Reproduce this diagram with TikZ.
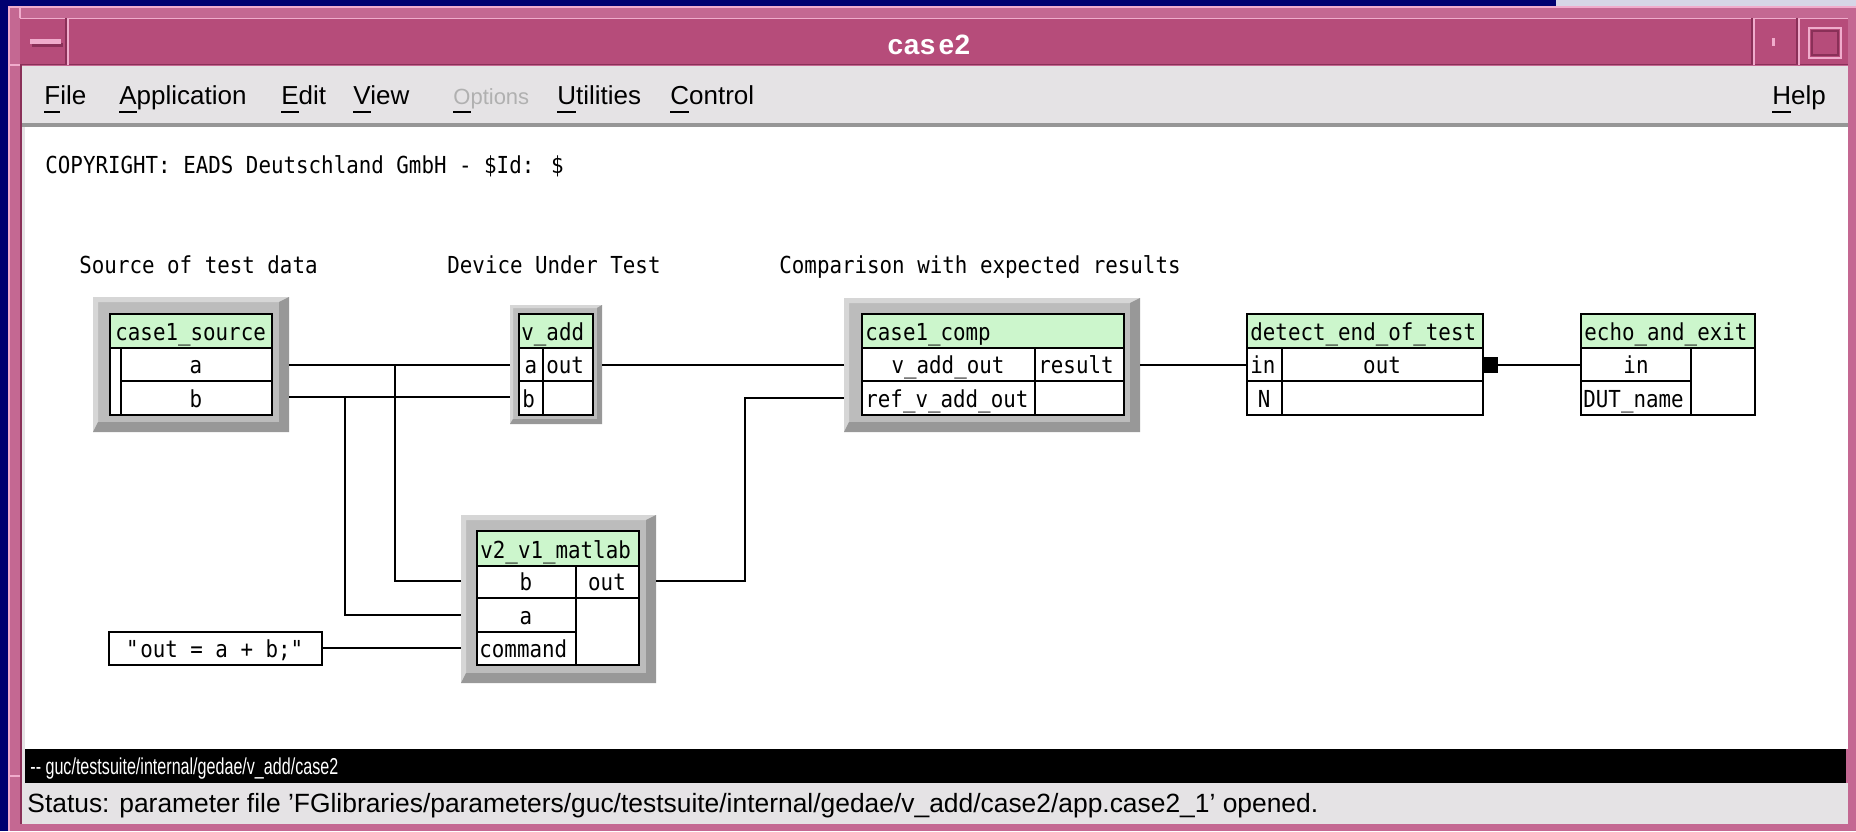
\documentclass[tikz,border=0pt]{standalone}
\usepackage{fontspec}
\setmainfont{Liberation Sans}
\newfontfamily\gmono[FakeStretch=0.89]{DejaVu Sans Mono}
\newfontfamily\guisans{Liberation Sans}
\newfontfamily\pathfont[FakeStretch=0.7]{Liberation Sans}
\newfontfamily\statfont{Liberation Sans}

\definecolor{desk}{RGB}{0,0,112}
\definecolor{desklight}{RGB}{214,214,230}
\definecolor{wframe}{RGB}{196,104,146}
\definecolor{wlight}{RGB}{240,172,204}
\definecolor{wdark}{RGB}{138,48,88}
\definecolor{titlebar}{RGB}{182,76,122}
\definecolor{menubg}{RGB}{229,227,229}
\definecolor{menushade}{RGB}{150,150,150}
\definecolor{hdrgreen}{RGB}{204,246,204}
\definecolor{framemid}{RGB}{188,188,188}
\definecolor{framelight}{RGB}{214,214,214}
\definecolor{framedark}{RGB}{152,152,152}
\definecolor{greyed}{RGB}{176,176,176}

% keyboard mnemonic: underline the first letter of a menu entry
\newcommand\mnemo[1]{\setbox0\hbox{#1}\rlap{\textcolor{black}{\rule[-4.5pt]{\wd0}{1pt}}}#1}

% grey bevelled block frame: x1 y1 x2 y2 lightwidth darkwidth
\newcommand\bevelbox[6]{%
  \fill[framemid] (#1,#2) rectangle (#3,#4);
  \fill[framelight] (#1,#2) -- (#3,#2) -- (#3-#6,#2+#5) -- (#1+#5,#2+#5)
       -- (#1+#5,#4-#6) -- (#1,#4) -- cycle;
  \fill[framedark] (#3,#4) -- (#1,#4) -- (#1+#5,#4-#6) -- (#3-#6,#4-#6)
       -- (#3-#6,#2+#5) -- (#3,#2) -- cycle;
}

\begin{document}
\begin{tikzpicture}[x=0.5pt,y=-0.5pt,
  mono/.style={font=\gmono\fontsize{11.7}{13}\selectfont, inner sep=0pt, anchor=base west},
  monoc/.style={mono, anchor=base},
  menu/.style={font=\guisans\fontsize{13}{15}\selectfont, inner sep=0pt, anchor=base west},
  cellbox/.style={line width=1pt},
  wire/.style={line width=1.1pt},
  ]
\useasboundingbox (0,0) rectangle (1856,831);

% ---------- desktop and window decoration ----------
\fill[desk] (0,0) rectangle (1856,831);
\fill[desklight] (1556,0) rectangle (1856,6);
\fill[wframe] (8,6) rectangle (1856,831);
\draw[wlight, line width=1pt] (9,831) -- (9,7) -- (1856,7);
\draw[wlight, line width=0.6pt] (20,6) -- (20,18) (8,65) -- (20,65) (8,776) -- (22,776);
\draw[wdark, line width=0.6pt] (21,18) -- (21,824);

% title bar
\fill[titlebar] (20,18) rectangle (1848,65);
\draw[wlight, line width=0.8pt] (20,18.5) -- (1848,18.5);
\draw[wdark, line width=0.8pt] (20,64.5) -- (1848,64.5);
\draw[wlight, line width=0.8pt] (68,18) -- (68,65) (1754,18) -- (1754,65) (1799,18) -- (1799,65);
\draw[wdark, line width=0.8pt] (66,18) -- (66,65) (1752,18) -- (1752,65) (1797,18) -- (1797,65);
\fill[wdark] (32,43) rectangle (63,47);
\fill[wlight] (30,39) rectangle (61,44);
\fill[wlight] (1772,38) rectangle (1775,46);
\draw[wlight, line width=1pt] (1809,28) rectangle (1841,58);
\draw[wdark, line width=0.8pt] (1812,31) rectangle (1838,55);
\node[font=\guisans\bfseries\fontsize{14}{16}\selectfont, text=white, inner sep=0pt] (wintitle) at (929,45) {c\kern0.3pt a\kern0.3pt s\kern1.5pt e\kern0.3pt 2};

% menu bar
\fill[menubg] (22,66) rectangle (1848,123);
\fill[menushade] (22,123) rectangle (1848,127);
\node[menu] (mFile) at (44,104) {\mnemo{F}ile};
\node[menu] (mApp) at (119,104) {\mnemo{A}pplication};
\node[menu] (mEdit) at (281,104) {\mnemo{E}dit};
\node[menu] (mView) at (353,104) {\mnemo{V}iew};
\node[menu, text=greyed, font=\guisans\fontsize{11}{13}\selectfont] (mOpt) at (453,104) {\mnemo{O}ptions};
\node[menu] (mUtil) at (557,104) {\mnemo{U}tilities};
\node[menu] (mCtrl) at (670,104) {\mnemo{C}ontrol};
\node[menu] (mHelp) at (1772,104) {\mnemo{H}elp};

% drawing canvas, path line and status line
\fill[menubg] (22,127) rectangle (25,783);
\fill[white] (25,127) rectangle (1848,749);
\fill[black] (25,749) rectangle (1846,783);
\fill[menubg] (22,783) rectangle (1848,824);
\node[font=\pathfont\fontsize{11.5}{13}\selectfont, text=white, inner sep=0pt, anchor=base west]
  (pathline) at (30,774) {-\kern0pt- guc/testsuite/internal/gedae/v\_add/case2};
\node[font=\statfont\fontsize{13.2}{15}\selectfont, inner sep=0pt, anchor=base west]
  (statusline) at (27,812) {Status: parameter file ’FGlibraries/parameters/guc/testsuite/internal/gedae/v\_add/case2/app.case2\_1’ opened.};

% ---------- canvas texts ----------
\node[mono] (copyright) at (45,173) {COPYRIGHT: EADS Deutschland GmbH - \$Id: \$};
\node[mono] (capSource) at (79,273) {Source of test data};
\node[mono] (capDut) at (447,273) {Device Under Test};
\node[mono] (capComp) at (779,273) {Comparison with expected results};

% ---------- block case1_source ----------
\bevelbox{93}{297}{289}{432}{5}{10}
\fill[hdrgreen] (110,314) rectangle (272,348);
\fill[white] (110,348) rectangle (272,415);
\draw[cellbox] (110,314) rectangle (272,415) (110,348) -- (272,348) (121,381) -- (272,381) (121,348) -- (121,415);
\node[mono] (srcName) at (115,340) {case1\_source};
\node[monoc] (srcA) at (196,373) {a};
\node[monoc] (srcB) at (196,407) {b};

% ---------- block v_add ----------
\bevelbox{510}{305}{602}{424}{3}{5}
\fill[hdrgreen] (519,314) rectangle (593,348);
\fill[white] (519,348) rectangle (593,415);
\draw[cellbox] (519,314) rectangle (593,415) (519,348) -- (593,348) (519,381) -- (593,381) (543,348) -- (543,415);
\node[mono] (vaddName) at (521,340) {v\_add};
\node[monoc] (vaddA) at (531,373) {a};
\node[mono] (vaddOut) at (546,373) {out};
\node[mono] (vaddB) at (522,407) {b};

% ---------- block case1_comp ----------
\bevelbox{844}{298}{1140}{432}{5}{10}
\fill[hdrgreen] (862,314) rectangle (1124,348);
\fill[white] (862,348) rectangle (1124,415);
\draw[cellbox] (862,314) rectangle (1124,415) (862,348) -- (1124,348) (862,381) -- (1124,381) (1035,348) -- (1035,415);
\node[mono] (compName) at (865,340) {case1\_comp};
\node[monoc] (compIn) at (948,373) {v\_add\_out};
\node[mono] (compRes) at (1038,373) {result};
\node[mono] (compRef) at (865,407) {ref\_v\_add\_out};

% ---------- block detect_end_of_test ----------
\fill[hdrgreen] (1247,314) rectangle (1483,348);
\fill[white] (1247,348) rectangle (1483,415);
\draw[cellbox] (1247,314) rectangle (1483,415) (1247,348) -- (1483,348) (1247,381) -- (1483,381) (1282,348) -- (1282,415);
\node[mono] (detName) at (1250,340) {detect\_end\_of\_test};
\node[mono] (detIn) at (1250,373) {in};
\node[monoc] (detOut) at (1382,373) {out};
\node[monoc] (detN) at (1264,407) {N};
\node[fill=black, inner sep=0pt, minimum width=7.5pt, minimum height=8pt] (detPort) at (1490.5,365) {};

% ---------- block echo_and_exit ----------
\fill[hdrgreen] (1581,314) rectangle (1755,348);
\fill[white] (1581,348) rectangle (1755,415);
\draw[cellbox] (1581,314) rectangle (1755,415) (1581,348) -- (1755,348) (1581,381) -- (1691,381) (1691,348) -- (1691,415);
\node[mono] (echoName) at (1584,340) {echo\_and\_exit};
\node[monoc] (echoIn) at (1636,373) {in};
\node[mono] (echoDut) at (1583,407) {DUT\_name};

% ---------- block v2_v1_matlab ----------
\bevelbox{461}{515}{656}{683}{5}{10}
\fill[hdrgreen] (477,531) rectangle (639,566);
\fill[white] (477,566) rectangle (639,665);
\draw[cellbox] (477,531) rectangle (639,665) (477,566) -- (639,566) (477,598) -- (639,598) (477,632) -- (576,632) (576,566) -- (576,665);
\node[mono] (matName) at (480,558) {v2\_v1\_matlab};
\node[monoc] (matB) at (526,590) {b};
\node[monoc] (matOut) at (607,590) {out};
\node[monoc] (matA) at (526,624) {a};
\node[mono] (matCmd) at (479,657) {command};

% ---------- constant block ----------
\fill[white] (109,632) rectangle (322,665);
\draw[cellbox] (109,632) rectangle (322,665);
\node[monoc] (cmdText) at (215.5,657) {\textquotedbl out = a + b;\textquotedbl};

% ---------- ports ----------
\coordinate (pSrcA) at (289,365);
\coordinate (pSrcB) at (289,397);
\coordinate (pVaddA) at (510,365);
\coordinate (pVaddB) at (510,397);
\coordinate (pVaddOut) at (602,365);
\coordinate (pCompIn) at (844,365);
\coordinate (pCompRef) at (844,398);
\coordinate (pCompRes) at (1140,365);
\coordinate (pDetIn) at (1247,365);
\coordinate (pEchoIn) at (1581,365);
\coordinate (pMatB) at (461,581);
\coordinate (pMatA) at (461,615);
\coordinate (pMatCmd) at (461,648);
\coordinate (pMatOut) at (656,581);
\coordinate (pConst) at (322,648);
\coordinate (jA) at (395,365);
\coordinate (jB) at (345,397);
\coordinate (bendRef) at (745,398);

% ---------- connections ----------
\draw[wire] (pSrcA) -- (pVaddA);
\draw[wire] (pSrcB) -- (pVaddB);
\draw[wire] (jA) |- (pMatB);
\draw[wire] (jB) |- (pMatA);
\draw[wire] (pConst) -- (pMatCmd);
\draw[wire] (pVaddOut) -- (pCompIn);
\draw[wire] (pMatOut) -| (bendRef) -- (pCompRef);
\draw[wire] (pCompRes) -- (pDetIn);
\draw[wire] (detPort.east) -- (pEchoIn);
\end{tikzpicture}
\end{document}
